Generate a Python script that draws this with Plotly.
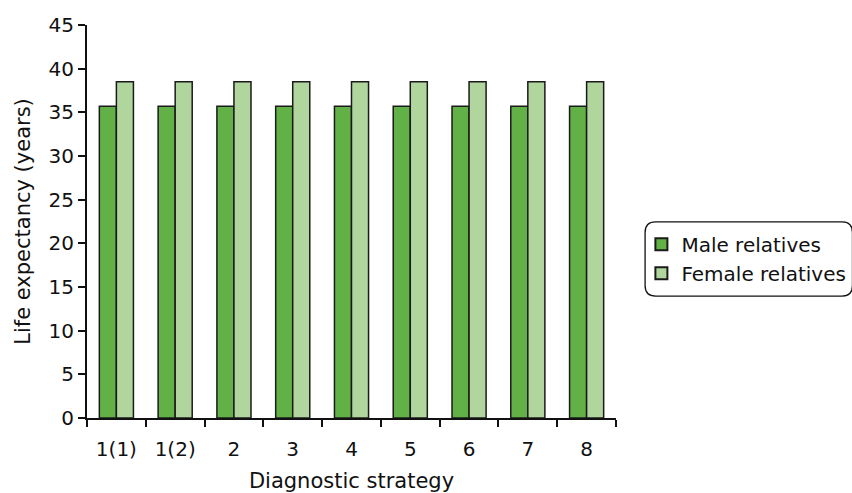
import plotly.graph_objects as go

strategies = ["1(1)", "1(2)", "2", "3", "4", "5", "6", "7", "8"]
male_relatives = [35.7, 35.7, 35.7, 35.7, 35.7, 35.7, 35.7, 35.7, 35.7]
female_relatives = [38.5, 38.5, 38.5, 38.5, 38.5, 38.5, 38.5, 38.5, 38.5]

FONT = "DejaVu Sans, sans-serif"

fig = go.Figure()
fig.add_trace(go.Bar(
    x=strategies, y=male_relatives, name="Male relatives",
    marker=dict(color="#62b146", line=dict(color="#1a1a1a", width=1.5)),
))
fig.add_trace(go.Bar(
    x=strategies, y=female_relatives, name="Female relatives",
    marker=dict(color="#b0d69e", line=dict(color="#1a1a1a", width=1.5)),
))

fig.update_layout(
    width=852, height=493,
    margin=dict(l=87, r=236, t=25, b=75, autoexpand=False),
    plot_bgcolor="white", paper_bgcolor="white",
    barmode="group", bargap=0.42, bargroupgap=0,
    font=dict(family=FONT, size=20, color="#111"),
    showlegend=True,
    legend=dict(
        x=1.048, y=0.405, xanchor="left", yanchor="middle",
        font=dict(family=FONT, size=20, color="#111"),
        bgcolor="rgba(0,0,0,0)", borderwidth=0,
        itemsizing="constant", itemwidth=30, tracegroupgap=0,
    ),
)

# rounded frame around the legend
x0, x1, y0, y1, r = 1.055, 1.447, 0.31, 0.499, 0.02
ry = r * 529 / 393
path = (f"M {x0 + r},{y1} L {x1 - r},{y1} Q {x1},{y1} {x1},{y1 - ry} "
        f"L {x1},{y0 + ry} Q {x1},{y0} {x1 - r},{y0} "
        f"L {x0 + r},{y0} Q {x0},{y0} {x0},{y0 + ry} "
        f"L {x0},{y1 - ry} Q {x0},{y1} {x0 + r},{y1} Z")
fig.add_shape(type="path", path=path, xref="paper", yref="paper",
              line=dict(color="#111", width=1.3))

fig.update_xaxes(
    showline=True, linecolor="#111", linewidth=2,
    ticks="outside", tickson="boundaries", ticklen=7, tickwidth=2, tickcolor="#111",
    showgrid=False, tickfont=dict(family=FONT, size=20), ticklabelstandoff=12,
    title=dict(text="Diagnostic strategy", font=dict(family=FONT, size=21), standoff=14),
)
fig.update_yaxes(
    range=[0, 45], dtick=5, showline=True, linecolor="#111", linewidth=2,
    ticks="outside", ticklen=7, tickwidth=2, tickcolor="#111",
    showgrid=False, zeroline=False, tickfont=dict(family=FONT, size=20),
    title=dict(text="Life expectancy (years)", font=dict(family=FONT, size=21), standoff=12),
)

fig.write_html("out.html")
